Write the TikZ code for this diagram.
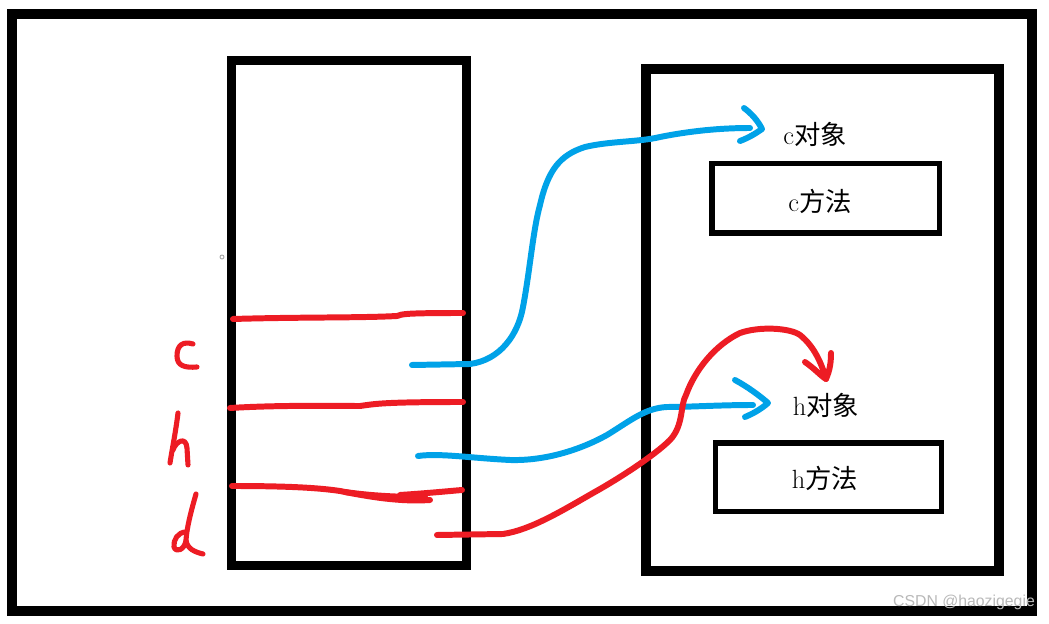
\documentclass[tikz,border=0pt]{standalone}
\usepackage{fontspec}
\newfontfamily\cjk{Noto Sans CJK SC}
\newfontfamily\wmfont{Liberation Sans}
\definecolor{pred}{RGB}{237,28,36}
\definecolor{pblue}{RGB}{0,162,232}
\tikzset{
  box/.style={draw=black, inner sep=0pt, outer sep=0pt, fill=none},
  lbl/.style={inner sep=0pt, font=\fontsize{15}{17}\selectfont},
  pen/.style={line width=3.4pt, line cap=round, line join=round},
  redpen/.style={pen, draw=pred},
  bluepen/.style={pen, draw=pblue},
  letter/.style={line width=2.9pt, line cap=round, line join=round, draw=pred},
}
\begin{document}
\begin{tikzpicture}[x=0.02cm, y=-0.02cm]
\useasboundingbox (0,0) rectangle (1049,624);
\fill[white] (0,0) rectangle (1049,624);
% frames
\node[box, line width=5.7pt, minimum width=20.4cm, minimum height=11.94cm] (frame) at (522,312.5) {};
\node[box, line width=5.1pt, minimum width=4.72cm, minimum height=10.12cm] (stack) at (349,313) {};
\node[box, line width=5.7pt, minimum width=7.07cm, minimum height=10.04cm] (heap) at (822.25,320) {};
\node[box, line width=2.9pt, minimum width=4.55cm, minimum height=1.39cm] (cmbox) at (825.75,198.25) {};
\node[box, line width=2.9pt, minimum width=4.52cm, minimum height=1.37cm] (hmbox) at (828.5,477.25) {};
% texts
\node[lbl] (cobj) at (815,134) {c{\cjk 对象}};
\node[lbl] (cmeth) at (820,201) {c{\cjk 方法}};
\node[lbl] (hobj) at (826,405) {h{\cjk 对象}};
\node[lbl] (hmeth) at (825,478) {h{\cjk 方法}};
% small dot
\draw[gray!70, line width=0.5pt] (222,257) circle (2);
% red divider lines
\draw[redpen] (233,319) .. controls (300,317) and (360,318) .. (397,316) .. controls (402,314) and (405,313) .. (463,313);
\draw[redpen] (230,408) .. controls (280,405) and (330,406) .. (360,406) .. controls (375,404) and (380,402) .. (463,402);
\draw[redpen] (232,486) .. controls (290,486) and (320,488) .. (340,491) .. controls (370,497) and (400,502) .. (430,500);
\draw[redpen] (345,492) .. controls (380,497) and (410,497) .. (425,497);
\draw[redpen] (400,495) .. controls (430,493) and (450,491) .. (462,490);
% letters c h d
\draw[letter] (193,344) .. controls (183,341) and (177,345) .. (177,356) .. controls (177,366) and (185,368) .. (197,367);
\draw[letter] (178,413) .. controls (176,430) and (172,450) .. (170,463);
\draw[letter] (173,450) .. controls (176,441) and (186,436) .. (187,448) -- (188,465);
\draw[letter] (196,494) .. controls (192,508) and (187,526) .. (186,540) .. controls (187,549) and (195,552) .. (203,554);
\draw[letter] (186,532) .. controls (178,532) and (173,540) .. (174,547) .. controls (176,553) and (184,550) .. (186,541);
% connectors
\coordinate (s1) at (412,365);
\coordinate (e1) at (762,129);
\coordinate (s2) at (418,456);
\coordinate (e2) at (768,403);
\coordinate (s3) at (437,535);
\coordinate (e3) at (826,379);
\draw[bluepen] (s1) -- (470,364) .. controls (500,360) and (518,335) .. (523,307) .. controls (530,270) and (533,230) .. (540,205) .. controls (548,170) and (560,155) .. (585,147) .. controls (610,141) and (640,142) .. (660,137) .. controls (690,131) and (720,128) .. (750,128);
\draw[bluepen] (744,108) .. controls (752,114) and (758,121) .. (e1) .. controls (755,134) and (748,138) .. (740,141);
\draw[bluepen] (s2) .. controls (440,453) and (470,458) .. (510,460) .. controls (545,461) and (580,450) .. (607,435) .. controls (630,421) and (645,408) .. (667,407) .. controls (690,407) and (720,405) .. (753,405);
\draw[bluepen] (735,380) .. controls (748,387) and (760,396) .. (e2) .. controls (760,410) and (752,414) .. (745,417);
\draw[redpen] (s3) -- (503,534) .. controls (530,530) and (560,512) .. (593,493) .. controls (620,478) and (655,455) .. (670,440) .. controls (684,425) and (680,405) .. (686,395) .. controls (695,370) and (715,345) .. (740,333) .. controls (760,326) and (790,328) .. (800,335) .. controls (815,347) and (822,365) .. (e3);
\draw[redpen] (805,362) .. controls (815,369) and (821,376) .. (e3) .. controls (830,370) and (831,362) .. (831,353);
% watermark
\node[inner sep=0pt, text=gray!55, font=\wmfont\fontsize{9}{11}\selectfont] (wm) at (964,602) {CSDN @haozigegie};
\end{tikzpicture}
\end{document}
